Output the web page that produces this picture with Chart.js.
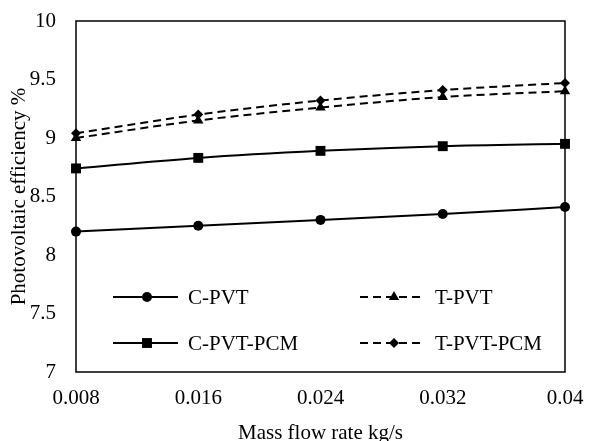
<!DOCTYPE html>
<html>
<head>
<meta charset="utf-8">
<script src="https://cdn.jsdelivr.net/npm/chart.js@4.4.1/dist/chart.umd.min.js"></script>
<style>
  html, body { margin: 0; padding: 0; background: #fff; }
  #wrap { width: 590px; height: 441px; }
</style>
</head>
<body>
<div id="wrap"><canvas id="chart" width="590" height="441"></canvas></div>
<script>
const flowRates = ["0.008", "0.016", "0.024", "0.032", "0.04"];
const seriesNames = ["C-PVT", "T-PVT", "C-PVT-PCM", "T-PVT-PCM"];
const cPvt = [8.20, 8.25, 8.30, 8.35, 8.41];
const tPvt = [9.00, 9.15, 9.26, 9.35, 9.40];
const cPvtPcm = [8.74, 8.83, 8.89, 8.93, 8.95];
const tPvtPcm = [9.04, 9.20, 9.32, 9.41, 9.47];

const FONT = "'Liberation Serif', 'Times New Roman', serif";

const mk = (label, data, style, radius, dashed) => ({
  label: label,
  data: data,
  borderColor: "#000",
  backgroundColor: "#000",
  borderWidth: 2,
  borderDash: dashed ? [8, 5] : [],
  pointStyle: style,
  pointRadius: radius,
  pointBorderWidth: 0,
  pointBackgroundColor: "#000",
  tension: 0.3,
  cubicInterpolationMode: "monotone"
});

// legend drawn inside the plot box, 2 columns x 2 rows
const boxLegend = {
  id: "boxLegend",
  beforeDatasetsDraw(chart) {
    const { ctx, chartArea } = chart;
    ctx.save();
    ctx.strokeStyle = "#000";
    ctx.lineWidth = 1.5;
    ctx.strokeRect(chartArea.left, chartArea.top, chartArea.right - chartArea.left, chartArea.bottom - chartArea.top);
    ctx.restore();
  },
  afterDraw(chart) {
    const { ctx, chartArea } = chart;
    const colX = [chartArea.left + 37, chartArea.left + 284];
    const rowY = [chartArea.top + 276, chartArea.top + 322];
    chart.data.datasets.forEach((ds, i) => {
      const x = colX[i % 2];
      const y = rowY[Math.floor(i / 2)];
      ctx.save();
      ctx.strokeStyle = "#000";
      ctx.fillStyle = "#000";
      ctx.lineWidth = 2;
      ctx.setLineDash(ds.borderDash);
      ctx.beginPath();
      ctx.moveTo(x, y);
      ctx.lineTo(x + 65, y);
      ctx.stroke();
      ctx.setLineDash([]);
      Chart.helpers.drawPoint(ctx, { pointStyle: ds.pointStyle, radius: ds.pointRadius, rotation: 0, borderWidth: 0 }, x + 34, y);
      ctx.font = "21px " + FONT;
      ctx.textBaseline = "middle";
      ctx.textAlign = "left";
      ctx.fillText(ds.label, x + 75, y + 1);
      ctx.restore();
    });
  }
};

new Chart(document.getElementById("chart"), {
  type: "line",
  data: {
    labels: flowRates,
    datasets: [
      mk(seriesNames[0], cPvt, "circle", 5, false),
      mk(seriesNames[1], tPvt, "triangle", 6, true),
      mk(seriesNames[2], cPvtPcm, "rect", 7, false),
      mk(seriesNames[3], tPvtPcm, "rectRot", 5, true)
    ]
  },
  options: {
    responsive: false,
    animation: false,
    layout: { padding: { left: 0, right: 25, top: 21, bottom: 0 } },
    plugins: { legend: { display: false }, tooltip: { enabled: false } },
    scales: {
      x: {
        offset: false,
        grid: { display: false, drawTicks: false },
        border: { display: false },
        ticks: { color: "#000", font: { family: FONT, size: 21 }, padding: 14, maxRotation: 0 },
        title: { display: true, text: "Mass flow rate kg/s", color: "#000", font: { family: FONT, size: 21, lineHeight: 0.75 }, padding: { top: 0, bottom: 0 } },
        afterFit: s => { s.height = 69; s.paddingLeft = 0; s.paddingRight = 0; }
      },
      y: {
        min: 7,
        max: 10,
        grid: { display: false, drawTicks: false },
        border: { display: false },
        ticks: { stepSize: 0.5, color: "#000", font: { family: FONT, size: 21 }, padding: 20, callback: v => String(v) },
        title: { display: true, text: "Photovoltaic efficiency %", color: "#000", font: { family: FONT, size: 21, lineHeight: 1 }, padding: { top: 9, bottom: 0 } },
        afterFit: s => { s.width = 76; s.paddingTop = 0; s.paddingBottom = 0; }
      }
    }
  },
  plugins: [boxLegend]
});
</script>
</body>
</html>
